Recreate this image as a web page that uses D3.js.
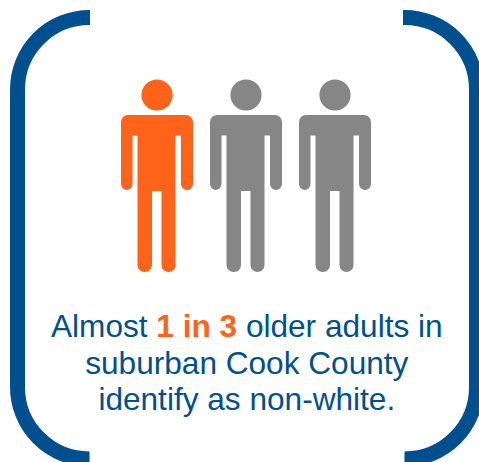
<!DOCTYPE html>
<html>
<head>
<meta charset="utf-8">
<script src="https://cdn.jsdelivr.net/npm/d3@7"></script>
<style>
html,body{margin:0;padding:0;background:#fff;overflow:hidden}
svg{display:block}
text{font-family:"Liberation Sans",Arial,sans-serif}
</style>
</head>
<body>
<script>
// Three figures, one of them highlighted
const figures = ["non-white", "white", "white"];
const figureColors = ["#ff6319", "#868686"];
const blue = "#00508f";
const textLines = [
  [["Almost ", 0], ["1 in 3", 1], [" older adults in", 0]],
  [["suburban Cook County", 0]],
  [["identify as non-white.", 0]]
];

const W = 479, H = 462;
const svg = d3.select("body").append("svg").attr("width", W).attr("height", H);

// Rounded brackets on either side
const r = 72;
const brackets = d3.path();
brackets.moveTo(90, 17.5);
brackets.arcTo(17.5, 17.5, 17.5, 17.5 + r, r);
brackets.lineTo(17.5, 459 - r);
brackets.arcTo(17.5, 459, 90, 459, r);
brackets.moveTo(403, 17.5);
brackets.arcTo(476.5, 17.5, 476.5, 17.5 + r, r);
brackets.lineTo(476.5, 459 - r);
brackets.arcTo(476.5, 459, 403, 459, r);
svg.append("path").attr("d", brackets.toString())
  .attr("fill", "none").attr("stroke", blue).attr("stroke-width", 15);

// Pictogram of a person, centred on x = 0
function personPath() {
  const p = d3.path();
  p.moveTo(-29, 115);
  p.lineTo(29, 115);
  p.arcTo(36, 115, 36, 122, 7);
  p.lineTo(36, 183);
  p.arcTo(36, 190, 29.5, 190, 6);
  p.arcTo(24, 190, 24, 183, 6);
  p.lineTo(24, 135.5);
  p.lineTo(18.5, 135.5);
  p.lineTo(18.5, 264);
  p.arcTo(18.5, 272, 11.5, 272, 7);
  p.arcTo(4.5, 272, 4.5, 264, 7);
  p.lineTo(4.5, 191);
  p.lineTo(-5, 191);
  p.lineTo(-5, 264);
  p.arcTo(-5, 272, -12, 272, 7);
  p.arcTo(-19.5, 272, -19.5, 264, 7);
  p.lineTo(-19.5, 135.5);
  p.lineTo(-24.5, 135.5);
  p.lineTo(-24.5, 183);
  p.arcTo(-24.5, 190, -30.5, 190, 6);
  p.arcTo(-36, 190, -36, 183, 6);
  p.lineTo(-36, 122);
  p.arcTo(-36, 115, -29, 115, 7);
  p.closePath();
  return p.toString();
}

const x = d3.scalePoint().domain(d3.range(figures.length)).range([157, 335]);
const color = d3.scaleOrdinal().domain(["non-white", "white"]).range(figureColors);

const people = svg.selectAll("g.person").data(figures).join("g")
  .attr("class", "person")
  .attr("transform", (d, i) => `translate(${x(i)},0)`)
  .attr("fill", d => color(d));
people.append("circle").attr("cx", 0).attr("cy", 95).attr("r", 15.6);
people.append("path").attr("d", personPath());

// Caption, with the key figure picked out in bold orange
const baselines = [337, 374, 410];
const caption = svg.append("g").attr("text-anchor", "middle")
  .attr("font-size", 31.6).attr("fill", blue);
textLines.forEach((runs, i) => {
  const t = caption.append("text").attr("x", 246.8).attr("y", baselines[i]).style("white-space", "pre");
  runs.forEach(([s, hi]) => {
    const span = t.append("tspan").text(s);
    if (hi) span.attr("fill", figureColors[0]).attr("font-weight", "bold");
  });
});
</script>
</body>
</html>
